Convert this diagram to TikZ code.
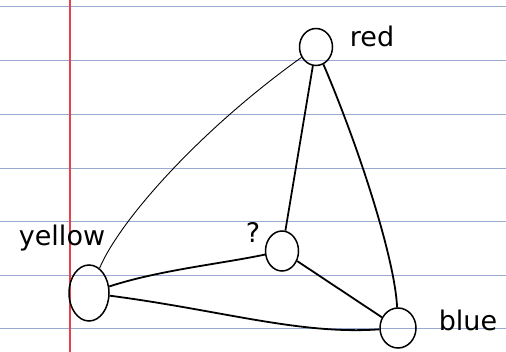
\documentclass[tikz,border=0pt]{standalone}
\usepackage{fontspec}
\setmainfont{DejaVu Sans}
\usetikzlibrary{shapes.geometric}
\definecolor{ruled}{HTML}{9AAAD2}
\definecolor{margin}{HTML}{E8414A}
\tikzset{
  vtx/.style={draw=black, line width=1.5pt, ellipse, inner sep=0pt},
  lbl/.style={font=\fontsize{27}{27}\selectfont, inner sep=1pt},
  edge/.style={line width=1.8pt},
  thinedge/.style={line width=0.9pt}
}
\begin{document}
\begin{tikzpicture}[x=1pt,y=-1pt]
\useasboundingbox (0,0) rectangle (506,352);
\fill[white] (0,0) rectangle (506,352);
\foreach \yy in {6,60,114,168,221,275,328}
  \draw[ruled, line width=0.8pt] (0,\yy) -- (506,\yy);
\draw[margin, line width=1.2pt] (70,0) -- (70,352);
% nodes
\node[vtx, minimum width=33pt, minimum height=37pt] (red) at (316,47) {};
\node[vtx, minimum width=40pt, minimum height=56pt] (yellow) at (89,293) {};
\node[vtx, minimum width=33pt, minimum height=40pt] (q) at (282,251) {};
\node[vtx, minimum width=36pt, minimum height=40pt] (blue) at (398,328) {};
% labels
\node[lbl] (redl) at (372,36) {red};
\node[lbl] (yellowl) at (62,238) {yellow};
\node[lbl] (ql) at (253,232) {?};
\node[lbl] (bluel) at (468,320) {blue};
% edges
\draw[thinedge] (red) .. controls (200,130) and (120,220) .. (yellow);
\draw[edge] (red) -- (q);
\draw[edge] (red) .. controls (360,150) and (395,260) .. (blue);
\draw[edge] (yellow) .. controls (160,270) and (220,264) .. (q);
\draw[edge] (yellow) .. controls (220,310) and (300,335) .. (blue);
\draw[edge] (q) -- (blue);
\end{tikzpicture}
\end{document}
